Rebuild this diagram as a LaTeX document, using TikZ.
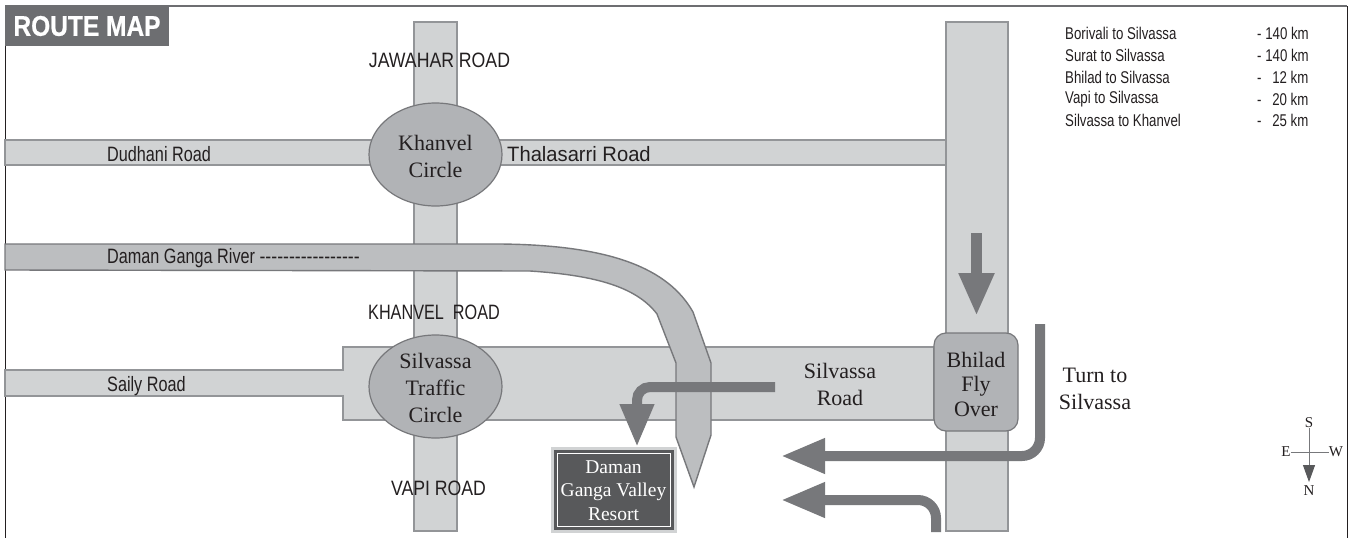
\documentclass[tikz,border=0pt]{standalone}
\usepackage{fontspec}
\usetikzlibrary{arrows.meta,shapes.geometric}
\setmainfont{Liberation Serif}
\newfontfamily\cond[FakeStretch=0.78]{Liberation Sans}
\newfontfamily\condcaps[FakeStretch=0.85]{Liberation Sans}
\newfontfamily\condwide[FakeStretch=0.97]{Liberation Sans}
\newfontfamily\condb[FakeStretch=0.86,FakeBold=0.6]{Liberation Sans Bold}
\definecolor{roadfill}{HTML}{D1D3D4}
\definecolor{roadline}{HTML}{939598}
\definecolor{circfill}{HTML}{B1B3B6}
\definecolor{rivfill}{HTML}{BCBEC0}
\definecolor{rivline}{HTML}{77787B}
\definecolor{darkarrow}{HTML}{77787B}
\definecolor{titlebg}{HTML}{6D6E71}
\definecolor{resort}{HTML}{58595B}
\definecolor{txt}{HTML}{231F20}
\tikzset{
  road/.style={fill=roadfill,draw=roadline,line width=1.6pt},
  circ/.style={ellipse,fill=circfill,draw=rivline,line width=1.2pt,minimum width=133pt,minimum height=103pt,inner sep=0pt},
  sanslabel/.style={font=\cond\fontsize{20.8}{22}\selectfont,text=txt,inner sep=0pt},
  capslabel/.style={font=\condcaps\fontsize{20.8}{22}\selectfont,text=txt,inner sep=0pt},
  smalllabel/.style={font=\cond\fontsize{17}{18}\selectfont,text=txt,inner sep=0pt,anchor=west},
  seriflabel/.style={font=\fontsize{22}{27}\selectfont,text=txt,align=center,inner sep=0pt},
  route/.style={draw=darkarrow,line width=10pt,rounded corners=18pt,-{Triangle[length=44pt,width=33pt,color=darkarrow]}},
  compasslabel/.style={font=\fontsize{15}{16}\selectfont,text=txt,inner sep=0pt}
}
\begin{document}
\begin{tikzpicture}[x=1pt,y=-1pt]
\useasboundingbox (0,0) rectangle (1352,538);
\fill[white] (0,0) rectangle (1352,538);
% frame
\draw[draw=txt,line width=1pt] (5,538) -- (5,6);
\draw[draw=txt,line width=1pt] (1347,6) -- (1347,538);
\draw[draw=titlebg,line width=1.5pt] (5,6) -- (1347,6);
% roads
\draw[road] (414,22) rectangle (457,531);
\draw[road] (5,140) rectangle (946,165);
\draw[road] (5,370) -- (343,370) -- (343,347) -- (934,347) -- (934,420) -- (343,420) -- (343,396) -- (5,396) -- cycle;
\draw[road] (946,22) rectangle (1008,531);
% river
\draw[fill=rivfill,draw=rivline,line width=1.4pt] (5,244) -- (500,244)
  .. controls (610,245) and (668,268) .. (693,312)
  -- (711,363) -- (711,435) -- (694,487) -- (676,437) -- (676,363) -- (657,314)
  .. controls (635,285) and (590,275) .. (530,271) -- (5,270) -- cycle;
% junctions
\node[circ] (khanvel) at (435.5,154.5) {};
\node[seriflabel] (khanvellabel) at (435.5,156.5) {Khanvel\\Circle};
\node[circ] (traffic) at (435.5,386.5) {};
\node[seriflabel] (trafficlabel) at (435.5,388) {Silvassa\\Traffic\\Circle};
\node[draw=rivline,fill=circfill,line width=1.2pt,rounded corners=12pt,minimum width=84pt,minimum height=98pt,inner sep=0pt] (bhilad) at (976,382) {};
\node[seriflabel,font=\fontsize{22}{24.5}\selectfont] (bhiladlabel) at (976,384) {Bhilad\\Fly\\Over};
% resort
\node[fill=resort,draw=roadfill,line width=3pt,minimum width=123pt,minimum height=83pt,inner sep=0pt] (resortbox) at (613.5,489.5) {};
\node[draw=white,line width=0.6pt,minimum width=113pt,minimum height=73pt,inner sep=0pt] (resortinner) at (613.5,489.5) {};
\node[align=center,inner sep=0pt,font=\fontsize{19.5}{23.5}\selectfont,text=white] (resortlabel) at (613.5,490.5) {Daman\\Ganga Valley\\Resort};
% title
\node[fill=titlebg,text=white,minimum width=164pt,minimum height=40pt,inner sep=0pt,font=\condb\fontsize{28.5}{30}\selectfont] (title) at (87,26) {ROUTE MAP};
% arrows
\coordinate (a1s) at (976.5,233); \coordinate (a1e) at (976.5,316);
\draw[draw=darkarrow,line width=11pt,-{Triangle[length=43pt,width=33pt,color=darkarrow]}] (a1s) -- (a1e);
\coordinate (a2s) at (1040,324); \coordinate (a2c) at (1040,456); \coordinate (a2e) at (781,456);
\draw[route] (a2s) -- (a2c) -- (a2e);
\coordinate (a3s) at (936,532); \coordinate (a3c) at (936,500); \coordinate (a3e) at (781,500);
\draw[route] (a3s) -- (a3c) -- (a3e);
\coordinate (a4s) at (775,387); \coordinate (a4c) at (637,387); \coordinate (a4e) at (637,447);
\draw[draw=darkarrow,line width=10pt,rounded corners=13pt,-{Triangle[length=43pt,width=32pt,color=darkarrow]}] (a4s) -- (a4c) -- (a4e);
% labels
\node[capslabel] (l1) at (439.5,60) {JAWAHAR ROAD};
\node[sanslabel] (l2) at (434,312) {KHANVEL\ \ ROAD};
\node[capslabel] (l3) at (438.5,488) {VAPI ROAD};
\node[sanslabel,anchor=west] (l4) at (107,154.5) {Dudhani Road};
\node[sanslabel,font=\condwide\fontsize{20.8}{22}\selectfont,anchor=west] (l5) at (507,154.5) {Thalasarri Road};
\node[sanslabel,anchor=west] (l6) at (107,386) {Saily Road};
\node[sanslabel,anchor=west] (l7) at (107,258) {Daman Ganga River {\condcaps -----------------}};
\node[seriflabel] (l8) at (840,384) {Silvassa\\Road};
\node[seriflabel] (l9) at (1095,388.5) {Turn to\\Silvassa};
% distances
\node[smalllabel] (d1) at (1065,33) {Borivali to Silvassa};
\node[smalllabel] (d2) at (1065,55) {Surat to Silvassa};
\node[smalllabel] (d3) at (1065,77) {Bhilad to Silvassa};
\node[smalllabel] (d4) at (1065,99) {Vapi to Silvassa};
\node[smalllabel] (d5) at (1065,120) {Silvassa to Khanvel};
\node[smalllabel] (k1) at (1257,33) {- 140 km};
\node[smalllabel] (k2) at (1257,55) {- 140 km};
\node[smalllabel] (k3) at (1257,77) {-\hspace{7pt} 12 km};
\node[smalllabel] (k4) at (1257,99) {-\hspace{7pt} 20 km};
\node[smalllabel] (k5) at (1257,120) {-\hspace{7pt} 25 km};
% compass
\node[compasslabel] (cs) at (1309,423) {S};
\node[compasslabel] (cn) at (1309,491) {N};
\node[compasslabel] (ce) at (1286,452) {E};
\node[compasslabel] (cw) at (1336,452) {W};
\coordinate (ctip) at (1309,482);
\draw[draw=rivline,line width=1pt] (ce.east) -- (cw.west);
\draw[draw=rivline,line width=1pt,-{Triangle[length=17pt,width=12pt,color=resort]}] (cs.south) -- (ctip);
\end{tikzpicture}
\end{document}
